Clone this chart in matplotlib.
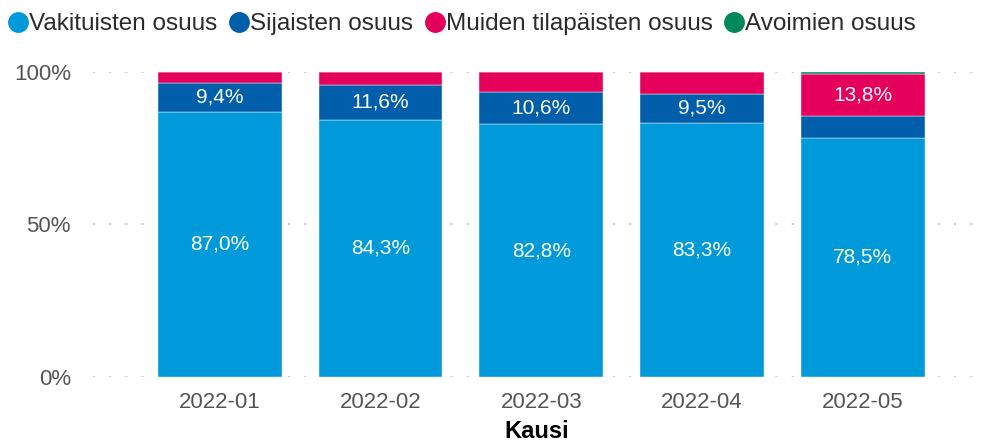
import matplotlib.pyplot as plt
from matplotlib.lines import Line2D
import numpy as np

plt.rcParams['font.family'] = ['Liberation Sans', 'DejaVu Sans']

kaudet = ["2022-01", "2022-02", "2022-03", "2022-04", "2022-05"]
vakituiset = [87.0, 84.3, 82.8, 83.3, 78.5]
sijaiset = [9.4, 11.6, 10.6, 9.5, 7.2]
muut_tilapaiset = [3.6, 4.1, 6.6, 7.2, 13.8]
avoimet = [0.0, 0.0, 0.0, 0.0, 0.5]

sarjat = ["Vakituisten osuus", "Sijaisten osuus", "Muiden tilapäisten osuus", "Avoimien osuus"]
varit = ["#0099D9", "#005EAA", "#E5005B", "#00875A"]

fig = plt.figure(figsize=(9.84, 4.44), dpi=100)
ax = fig.add_axes([93/984, 1 - 377/444, (980 - 93)/984, 305/444])

x = np.arange(len(kaudet))
pohja = np.zeros(len(kaudet))
for arvot, vari in zip([vakituiset, sijaiset, muut_tilapaiset, avoimet], varit):
    arvot = np.array(arvot)
    ax.bar(x, arvot, width=0.77, bottom=pohja, color=vari, edgecolor="white", linewidth=0.3)
    for xi, b, v in zip(x, pohja, arvot):
        if v >= 9:
            ax.text(xi, b + v / 2, f"{v:.1f}%".replace(".", ","), ha="center", va="center",
                    color="white", fontsize=15)
    pohja += arvot

ax.set_ylim(0, 100)
ax.set_xlim(-0.79, 4.73)
ax.set_yticks([0, 50, 100])
ax.set_yticklabels(["0%", "50%", "100%"])
ax.set_xticks(x)
ax.set_xticklabels(kaudet)
ax.tick_params(axis="both", length=0, labelsize=16, colors="#555555")
ax.tick_params(axis="y", pad=16)
ax.tick_params(axis="x", pad=11)
for y in [0, 50, 100]:
    ax.axhline(y, color="#BBBBBB", linestyle=(0, (1, 8)), linewidth=1.3, zorder=0)
for s in ax.spines.values():
    s.set_visible(False)
ax.set_xlabel("Kausi", fontsize=17, fontweight="bold", color="black", labelpad=5)

kahvat = [Line2D([0], [0], marker="o", linestyle="", markersize=14, markerfacecolor=c,
                 markeredgecolor=c) for c in varit]
fig.legend(kahvat, sarjat, loc="upper left", bbox_to_anchor=(-0.019, 1.02), ncol=4, frameon=False,
           fontsize=17.5, handletextpad=-0.15, columnspacing=0.3, handlelength=1.2,
           labelcolor="#2B2B2B")

fig.savefig("out.png", dpi=100)
